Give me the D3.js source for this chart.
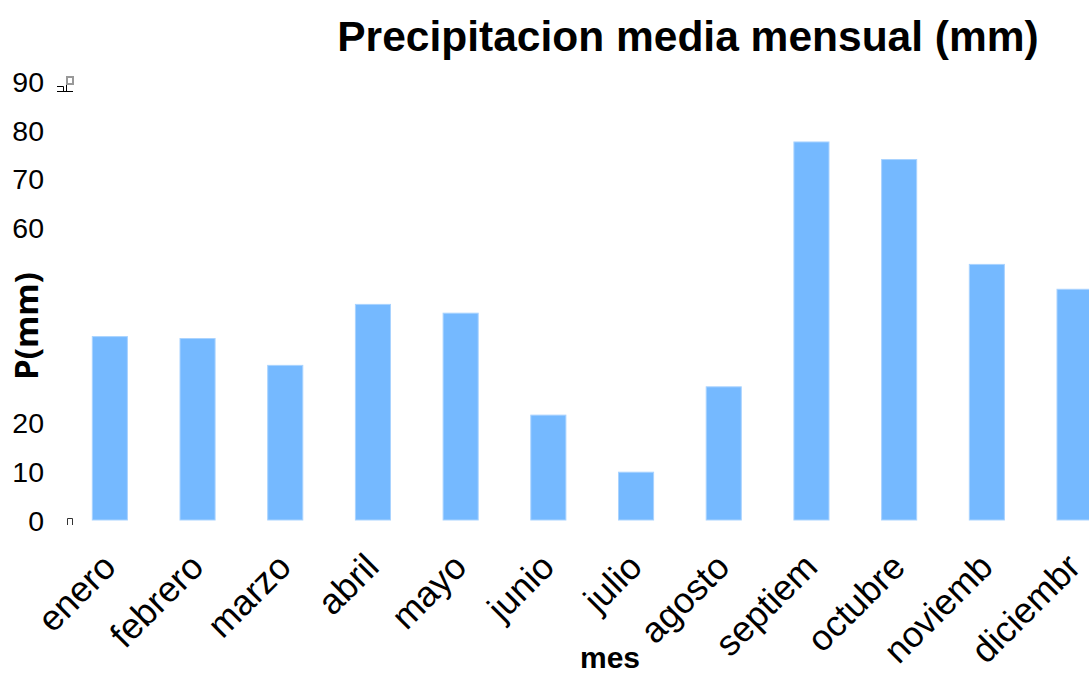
<!DOCTYPE html>
<html>
<head>
<meta charset="utf-8">
<script src="https://cdn.jsdelivr.net/npm/d3@7"></script>
<style>
  html, body { margin: 0; padding: 0; background: #ffffff; }
  svg { display: block; }
</style>
</head>
<body>
<svg id="chart" width="1089" height="675"></svg>
<script>
// Monthly mean precipitation (mm)
const months = ["enero", "febrero", "marzo", "abril", "mayo", "junio",
                "julio", "agosto", "septiem", "octubre", "noviemb", "diciembr"];
const precipitation = [37.6, 37.2, 31.7, 44.2, 42.4, 21.5, 9.8, 27.3, 77.5, 73.9, 52.4, 47.3];
const yTickValues = [0, 10, 20, 60, 70, 80, 90];

const svg = d3.select("#chart");

const x = d3.scaleBand()
  .domain(months)
  .range([66, 1118.4])
  .paddingInner(0.6)
  .paddingOuter(0.3);

const y = d3.scaleLinear()
  .domain([0, 90])
  .range([520, 81]);

// Bars
svg.append("g")
  .selectAll("rect")
  .data(months)
  .join("rect")
  .attr("x", d => x(d))
  .attr("y", (d, i) => y(precipitation[i]))
  .attr("width", x.bandwidth())
  .attr("height", (d, i) => y(0) - y(precipitation[i]))
  .attr("fill", "#75b9ff")
  .attr("stroke", "#a9d3ff")
  .attr("stroke-width", 1);

// Y axis (labels only)
const yAxis = d3.axisLeft(y)
  .tickValues(yTickValues)
  .tickSize(0)
  .tickPadding(0)
  .tickFormat(d3.format("d"));

const gy = svg.append("g")
  .attr("transform", "translate(44,0)")
  .call(yAxis);
gy.select(".domain").remove();
gy.selectAll("text")
  .attr("font-family", "'Liberation Sans', Arial, sans-serif")
  .attr("font-size", 28.5)
  .attr("fill", "#000")
  .attr("dy", "0.36em");

// X axis labels, rotated
const xAxis = d3.axisBottom(x).tickSize(0).tickPadding(0);
const gx = svg.append("g")
  .attr("transform", "translate(0,0)")
  .call(xAxis);
gx.select(".domain").remove();
gx.selectAll("text")
  .attr("font-family", "'Liberation Sans', Arial, sans-serif")
  .attr("font-size", 36)
  .attr("fill", "#000")
  .attr("text-anchor", "end")
  .attr("y", 0)
  .attr("dy", 0)
  .attr("transform", "translate(8,569) rotate(-45)");

// Small axis remnants near the corners of the plot
svg.append("path")
  .attr("d", "M57,86.5H63.5V91M57,91.5H73M66.5,84V91")
  .attr("fill", "none").attr("stroke", "#000").attr("stroke-width", 1);
svg.append("rect")
  .attr("x", 67).attr("y", 77).attr("width", 6).attr("height", 7)
  .attr("fill", "none").attr("stroke", "#999").attr("stroke-width", 2);
svg.append("path")
  .attr("d", "M67.5,525V518.5H72.5V525")
  .attr("fill", "none").attr("stroke", "#333").attr("stroke-width", 1);

// Title
svg.append("text")
  .attr("x", 688)
  .attr("y", 51)
  .attr("text-anchor", "middle")
  .attr("font-family", "'Liberation Sans', Arial, sans-serif")
  .attr("font-weight", "bold")
  .attr("font-size", 42.5)
  .attr("fill", "#000")
  .text("Precipitacion media mensual (mm)");

// X axis title
svg.append("text")
  .attr("x", 610)
  .attr("y", 668)
  .attr("text-anchor", "middle")
  .attr("font-family", "'Liberation Sans', Arial, sans-serif")
  .attr("font-weight", "bold")
  .attr("font-size", 30)
  .attr("fill", "#000")
  .text("mes");

// Y axis title
svg.append("text")
  .attr("transform", "translate(38,326) rotate(-90)")
  .attr("text-anchor", "middle")
  .attr("font-family", "'Open Sans', sans-serif")
  .attr("font-weight", "bold")
  .attr("font-size", 33)
  .attr("fill", "#000")
  .text("P(mm)");
</script>
</body>
</html>
